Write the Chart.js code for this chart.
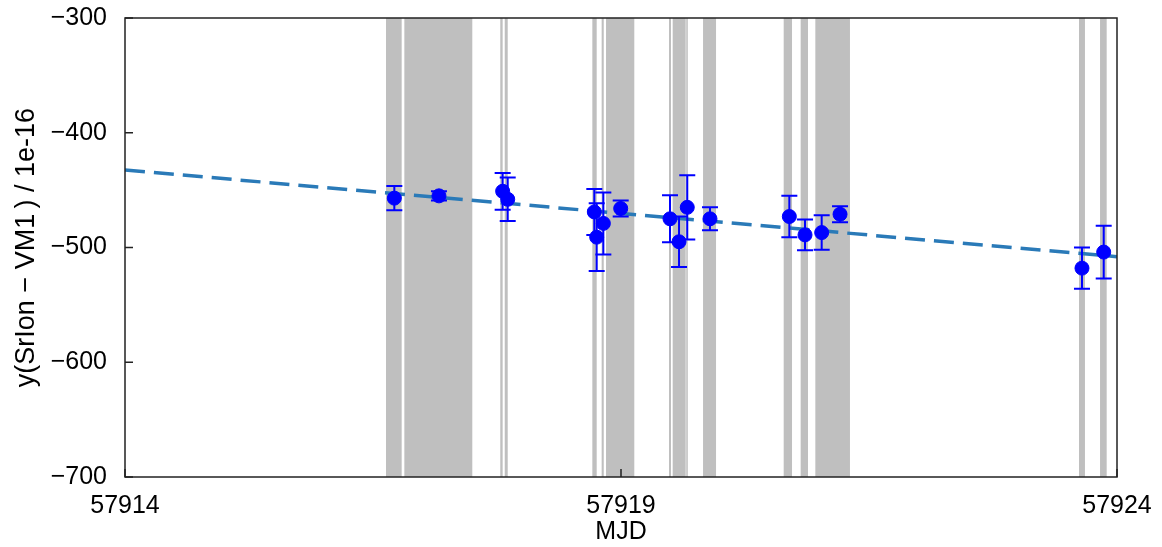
<!DOCTYPE html>
<html>
<head>
<meta charset="utf-8">
<script src="https://cdn.jsdelivr.net/npm/chart.js@4.4.1/dist/chart.umd.min.js"></script>
<style>
  html, body { margin: 0; padding: 0; background: #fff; }
  #wrap { width: 1162px; height: 547px; }
</style>
</head>
<body>
<div id="wrap"><canvas id="mainChart" width="1162" height="547"></canvas></div>
<script>
// measurement points (MJD, value in 1e-16, 1-sigma error)
const mjd = [57916.715, 57917.165, 57917.807, 57917.858, 57918.731, 57918.755,
             57918.822, 57918.997, 57919.494, 57919.585, 57919.668, 57919.897,
             57920.697, 57920.855, 57921.023, 57921.208, 57923.647, 57923.866];
const yVals = [-457, -455, -451, -458, -469, -491, -479, -466, -475, -495, -465, -475,
               -473, -489, -487, -471, -518, -504];
const yErr = [10.5, 4, 16, 19, 20, 29.5, 27, 7, 20.5, 22, 28, 10, 18, 13.5, 15, 7, 18, 23];

// linear fit (dashed)
const fitX = [57914, 57924];
const fitY = [-432.5, -508];

// grey shaded intervals [start, end] in MJD
const bandStart = [57916.631, 57916.816, 57917.783, 57917.828, 57918.711, 57918.805, 57918.849,
                   57919.484, 57919.521, 57919.658, 57919.827, 57920.640, 57920.811, 57920.959,
                   57923.617, 57923.829];
const bandEnd = [57916.789, 57917.501, 57917.807, 57917.858, 57918.755, 57918.826, 57919.134,
                 57919.504, 57919.652, 57919.668, 57919.958, 57920.724, 57920.885, 57921.308,
                 57923.677, 57923.896];

const xTicks = [57914, 57919, 57924];
const yTicks = [-700, -600, -500, -400, -300];

const fmt = (v) => String(v).replace('-', '\u2212');

const backdrop = {
    id: 'backdrop',
    beforeDatasetsDraw(chart) {
        const { ctx, chartArea: a, scales: { x } } = chart;
        ctx.save();
        ctx.beginPath();
        ctx.rect(a.left, a.top, a.right - a.left, a.bottom - a.top);
        ctx.clip();
        ctx.fillStyle = '#bfbfbf';
        bandStart.forEach((s, i) => {
            const x0 = x.getPixelForValue(s);
            const x1 = x.getPixelForValue(bandEnd[i]);
            ctx.fillRect(x0, a.top, Math.max(x1 - x0, 1.5), a.bottom - a.top);
        });
        ctx.restore();
    },
    afterDatasetsDraw(chart) {
        const { ctx, chartArea: a, scales: { x, y } } = chart;
        ctx.save();
        // error bars
        ctx.strokeStyle = '#0000ff';
        ctx.lineWidth = 2;
        mjd.forEach((m, i) => {
            const px = x.getPixelForValue(m);
            const top = y.getPixelForValue(yVals[i] + yErr[i]);
            const bot = y.getPixelForValue(yVals[i] - yErr[i]);
            ctx.beginPath();
            ctx.moveTo(px, top); ctx.lineTo(px, bot);
            ctx.moveTo(px - 8, top); ctx.lineTo(px + 8, top);
            ctx.moveTo(px - 8, bot); ctx.lineTo(px + 8, bot);
            ctx.stroke();
        });
        // frame and inward ticks
        ctx.strokeStyle = '#222';
        ctx.lineWidth = 1.5;
        ctx.strokeRect(a.left, a.top, a.right - a.left, a.bottom - a.top);
        ctx.beginPath();
        yTicks.forEach(v => {
            const py = y.getPixelForValue(v);
            ctx.moveTo(a.left, py); ctx.lineTo(a.left + 8, py);
        });
        xTicks.forEach(v => {
            const px = x.getPixelForValue(v);
            ctx.moveTo(px, a.bottom); ctx.lineTo(px, a.bottom - 8);
        });
        ctx.stroke();
        ctx.restore();
    }
};

const fontFamily = '"Liberation Sans", Arial, Helvetica, sans-serif';

new Chart(document.getElementById('mainChart').getContext('2d'), {
    type: 'scatter',
    data: {
        datasets: [
            {
                label: 'data',
                data: mjd.map((m, i) => ({ x: m, y: yVals[i] })),
                backgroundColor: '#0000ff',
                borderColor: '#0000ff',
                pointRadius: 7,
                pointHoverRadius: 7,
                order: 0
            },
            {
                label: 'fit',
                type: 'line',
                data: fitX.map((m, i) => ({ x: m, y: fitY[i] })),
                borderColor: '#2a7ab8',
                borderWidth: 3.5,
                borderDash: [20, 9],
                pointRadius: 0,
                fill: false,
                order: 1
            }
        ]
    },
    options: {
        responsive: false,
        animation: false,
        layout: { padding: { top: 18, right: 45, left: 0, bottom: 0 } },
        plugins: {
            legend: { display: false },
            tooltip: { enabled: false }
        },
        scales: {
            x: {
                type: 'linear',
                min: 57914,
                max: 57924,
                afterBuildTicks: (scale) => { scale.ticks = xTicks.map(v => ({ value: v })); },
                afterFit: (scale) => {
                    scale.height = 70;
                    scale.paddingLeft = 0;
                    scale.paddingRight = 0;
                },
                grid: { display: false, drawTicks: false },
                border: { display: false },
                ticks: {
                    padding: 14,
                    color: '#000',
                    font: { family: fontFamily, size: 25 },
                    maxRotation: 0,
                    callback: (v) => String(v)
                },
                title: {
                    display: true,
                    text: 'MJD',
                    color: '#000',
                    font: { family: fontFamily, size: 25 },
                    padding: { top: 0, bottom: 0 }
                }
            },
            y: {
                min: -700,
                max: -300,
                afterBuildTicks: (scale) => { scale.ticks = yTicks.map(v => ({ value: v })); },
                afterFit: (scale) => {
                    scale.width = 125;
                    scale.paddingTop = 0;
                    scale.paddingBottom = 0;
                },
                grid: { display: false, drawTicks: false },
                border: { display: false },
                ticks: {
                    padding: 18,
                    color: '#000',
                    font: { family: fontFamily, size: 25 },
                    callback: (v) => fmt(v)
                },
                title: {
                    display: true,
                    text: 'y(SrIon \u2212 VM1\u2009) / 1e-16',
                    color: '#000',
                    font: { family: fontFamily, size: 27 },
                    padding: { top: 10, bottom: 0 }
                }
            }
        }
    },
    plugins: [backdrop]
});
</script>
</body>
</html>
